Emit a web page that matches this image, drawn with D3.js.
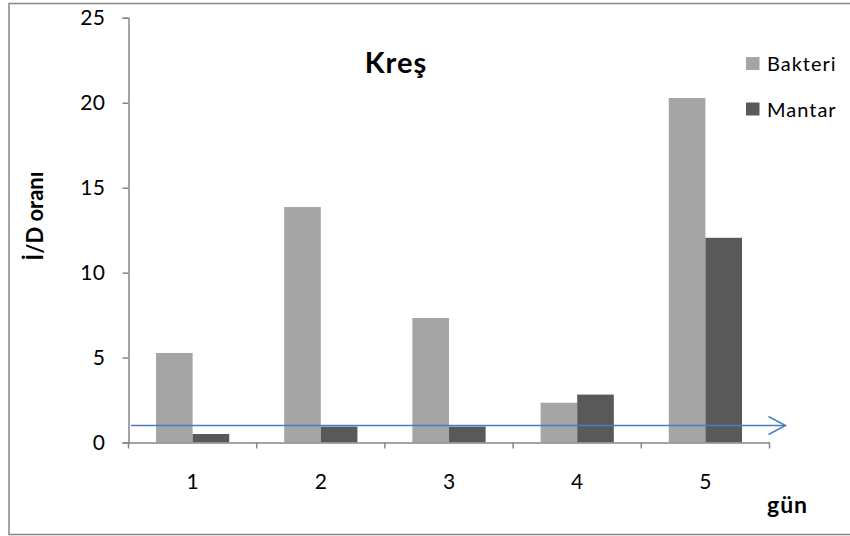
<!DOCTYPE html>
<html>
<head>
<meta charset="utf-8">
<script src="https://cdn.jsdelivr.net/npm/d3@7"></script>
<style>
  html, body { margin: 0; padding: 0; background: #fff; }
  svg { display: block; font-family: Lato, "Open Sans", sans-serif; }
</style>
</head>
<body>
<svg id="chart" width="850" height="536"></svg>
<script>
// Days on the x axis
const days = ["1", "2", "3", "4", "5"];
// Series names and values (İ/D ratio)
const seriesNames = ["Bakteri", "Mantar"];
const bakteri = [5.27, 13.86, 7.33, 2.34, 20.28];
const mantar = [0.5, 0.94, 0.94, 2.82, 12.05];
const seriesColors = ["#a5a5a5", "#595959"];
// Reference level drawn as an arrow across the plot
const referenceLevel = 1;
const yTicks = [0, 5, 10, 15, 20, 25];

const svg = d3.select("#chart");
const axisColor = "#868686";

// outer frame
svg.append("rect")
  .attr("x", 9).attr("y", 3.5)
  .attr("width", 850).attr("height", 531)
  .attr("fill", "none").attr("stroke", axisColor).attr("stroke-width", 1.5);

const x0 = 128.5, x1 = 769.5, yBottom = 442.5, yTop = 17.8;

const x = d3.scaleBand().domain(days).range([x0, x1]).paddingInner(0).paddingOuter(0);
// gap width 150%: each bar is a band / 3.5, gap split on both sides
const xs = d3.scaleBand().domain(seriesNames)
  .range([0, x.bandwidth()]).paddingInner(0).paddingOuter(0.75);
const y = d3.scaleLinear().domain([0, 25]).range([yBottom, yTop]);

const rows = days.map((d, i) => ({ day: d, values: [bakteri[i], mantar[i]] }));

// bars
const groups = svg.append("g").selectAll("g").data(rows).join("g")
  .attr("transform", d => `translate(${x(d.day)},0)`);
groups.selectAll("rect")
  .data(d => d.values.map((v, j) => ({ name: seriesNames[j], value: v, color: seriesColors[j] })))
  .join("rect")
  .attr("x", d => xs(d.name))
  .attr("width", xs.bandwidth())
  .attr("y", d => y(d.value))
  .attr("height", d => yBottom - y(d.value))
  .attr("fill", d => d.color);

// y axis
const yAxis = svg.append("g").attr("transform", `translate(${x0},0)`)
  .call(d3.axisLeft(y).tickValues(yTicks).tickSize(6).tickPadding(17).tickFormat(d3.format("d")));
yAxis.select(".domain").attr("stroke", axisColor).attr("stroke-width", 1.5);
yAxis.selectAll(".tick line").attr("stroke", axisColor).attr("stroke-width", 1.5);
yAxis.selectAll(".tick text").attr("font-size", 21).attr("fill", "#000")
  .attr("font-family", "Lato, sans-serif").attr("letter-spacing", 0.5);

// x axis
const xAxis = svg.append("g").attr("transform", `translate(0,${yBottom})`)
  .call(d3.axisBottom(x).tickSize(0).tickPadding(32));
xAxis.select(".domain").attr("stroke", axisColor).attr("stroke-width", 1.5);
xAxis.selectAll(".tick text").attr("font-size", 21).attr("fill", "#000")
  .attr("font-family", "Lato, sans-serif");
// boundary tick marks between categories
const bounds = days.map(d => x(d)).concat([x1]);
svg.append("g").selectAll("line").data(bounds).join("line")
  .attr("x1", d => d).attr("x2", d => d)
  .attr("y1", yBottom).attr("y2", yBottom + 6)
  .attr("stroke", axisColor).attr("stroke-width", 1.5);

// reference arrow
const yRef = y(referenceLevel);
const arrowEnd = 785.5;
svg.append("line")
  .attr("x1", 131).attr("x2", arrowEnd)
  .attr("y1", yRef).attr("y2", yRef)
  .attr("stroke", "#4a7ebb").attr("stroke-width", 1.5);
svg.append("path")
  .attr("d", `M${arrowEnd - 17},${yRef - 9} L${arrowEnd},${yRef} L${arrowEnd - 17},${yRef + 9}`)
  .attr("fill", "none").attr("stroke", "#4a7ebb").attr("stroke-width", 1.5);

// title
svg.append("text")
  .attr("x", 396).attr("y", 73)
  .attr("text-anchor", "middle")
  .attr("font-size", 29).attr("font-weight", "bold").attr("letter-spacing", 1)
  .text("Kreş");

// axis titles
svg.append("text")
  .attr("transform", "translate(43,216) rotate(-90)")
  .attr("text-anchor", "middle")
  .attr("font-size", 22).attr("font-weight", "bold")
  .text("İ/D oranı");
svg.append("text")
  .attr("x", 767).attr("y", 513)
  .attr("font-size", 23).attr("font-weight", "bold").attr("letter-spacing", 1)
  .text("gün");

// legend
const legend = svg.append("g").selectAll("g").data(seriesNames).join("g")
  .attr("transform", (d, i) => `translate(746,${57 + i * 45.5})`);
legend.append("rect")
  .attr("width", 13.5).attr("height", 13)
  .attr("fill", (d, i) => seriesColors[i]);
legend.append("text")
  .attr("x", 21).attr("y", 14)
  .attr("font-size", 20).attr("letter-spacing", 1)
  .text(d => d);
</script>
</body>
</html>
